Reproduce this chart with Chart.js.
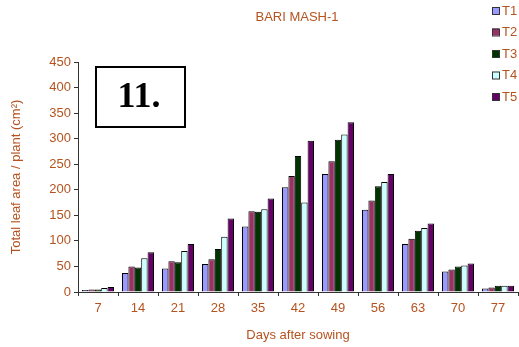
<!DOCTYPE html>
<html>
<head>
<meta charset="utf-8">
<script src="https://cdn.jsdelivr.net/npm/chart.js@4/dist/chart.umd.min.js"></script>
<style>
  html, body { margin: 0; padding: 0; background: #fff; }
  #wrap { width: 519px; height: 347px; position: relative; }
</style>
</head>
<body>
<div id="wrap"><canvas id="chart"></canvas></div>
<script>
const days = ['7', '14', '21', '28', '35', '42', '49', '56', '63', '70', '77'];
const t1 = [4, 37, 46, 55, 128, 205, 231, 161, 94, 40, 7];
const t2 = [5, 50, 60, 64, 158, 227, 256, 179, 104, 44, 9];
const t3 = [5, 48, 58, 84, 157, 266, 298, 207, 120, 50, 12];
const t4 = [8, 66, 80, 108, 162, 175, 308, 215, 125, 52, 12];
const t5 = [10, 78, 94, 144, 183, 296, 332, 231, 134, 56, 12];
const names = ['T1', 'T2', 'T3', 'T4', 'T5'];
const colors = ['#9999FF', '#993366', '#003300', '#CCFFFF', '#660066'];

const textColor = '#B5531F';
const font = 'Liberation Sans, Arial, sans-serif';

// title, number box and legend are drawn on top of the plot like in the original
const overlay = {
  id: 'overlay',
  afterDraw(chart) {
    const ctx = chart.ctx;
    ctx.save();
    ctx.fillStyle = textColor;
    ctx.font = '13px ' + font;
    ctx.textAlign = 'center';
    ctx.textBaseline = 'middle';
    ctx.fillText('BARI MASH-1', 297, 17);

    ctx.strokeStyle = '#000';
    ctx.lineWidth = 2;
    ctx.strokeRect(96, 67, 89, 60);
    ctx.fillStyle = '#000';
    ctx.font = 'bold 36px Liberation Serif, Times New Roman, serif';
    ctx.fillText('11.', 139, 98);

    ctx.font = '13px ' + font;
    ctx.textAlign = 'left';
    chart.data.datasets.forEach((ds, i) => {
      const y = 11 + i * 21.5;
      ctx.fillStyle = ds.backgroundColor;
      ctx.fillRect(492, y - 4, 7, 7);
      ctx.strokeStyle = '#333';
      ctx.lineWidth = 1;
      ctx.strokeRect(492.5, y - 3.5, 7, 7);
      ctx.fillStyle = textColor;
      ctx.fillText(ds.label, 502, y);
    });
    ctx.restore();
  }
};

new Chart(document.getElementById('chart'), {
  type: 'bar',
  data: {
    labels: days,
    datasets: [t1, t2, t3, t4, t5].map((d, i) => ({
      label: names[i],
      data: d,
      backgroundColor: colors[i],
      borderColor: '#000',
      borderWidth: 1,
      categoryPercentage: 0.8,
      barPercentage: 1.0
    }))
  },
  options: {
    responsive: true,
    maintainAspectRatio: false,
    animation: false,
    layout: { padding: { top: 62, right: 1, left: 0, bottom: 0 } },
    plugins: {
      legend: { display: false },
      title: { display: false },
      tooltip: { enabled: false }
    },
    scales: {
      x: {
        afterFit(scale) { scale.height = 55; },
        grid: { drawOnChartArea: false, drawTicks: true, tickLength: 4, color: '#333' },
        border: { color: '#333', width: 1 },
        ticks: { color: textColor, font: { family: font, size: 13 }, padding: 5 },
        title: { display: true, text: 'Days after sowing', color: textColor, font: { family: font, size: 13 }, padding: { top: 4 } }
      },
      y: {
        min: 0,
        max: 450,
        afterFit(scale) { scale.width = 78; },
        grid: { drawOnChartArea: false, drawTicks: true, tickLength: 4, color: '#333' },
        border: { color: '#333', width: 1 },
        ticks: { stepSize: 50, color: textColor, font: { family: font, size: 13 }, padding: 3 },
        title: { display: true, text: 'Total leaf area / plant (cm²)', color: textColor, font: { family: font, size: 13 }, padding: { top: 9, bottom: 0 } }
      }
    }
  },
  plugins: [overlay]
});
</script>
</body>
</html>
